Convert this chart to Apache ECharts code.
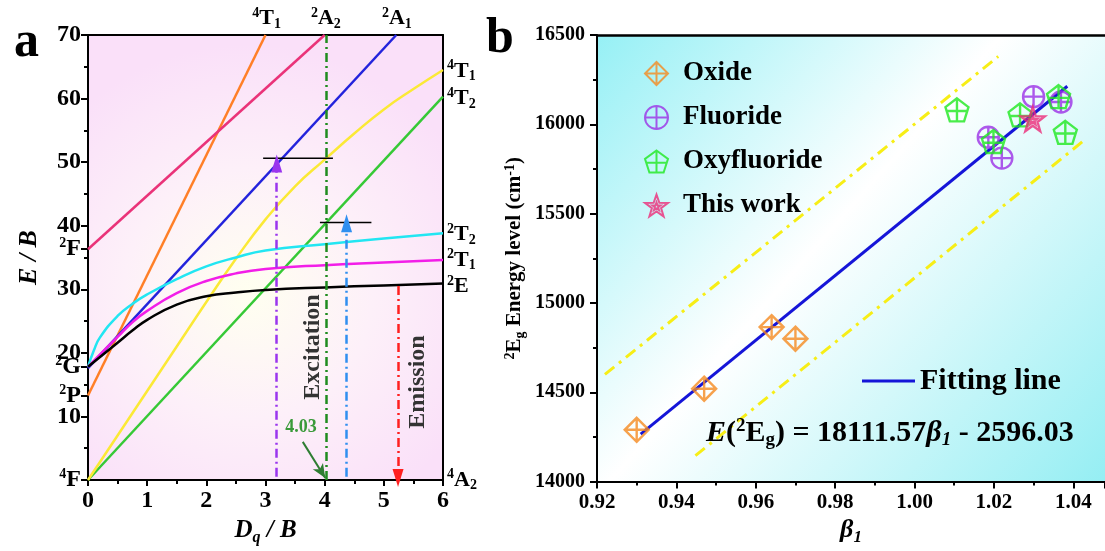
<!DOCTYPE html>
<html>
<head>
<meta charset="utf-8">
<script src="https://cdn.jsdelivr.net/npm/echarts@6.0.0/dist/echarts.min.js"></script>
<style>
  html, body { margin: 0; padding: 0; background: #fff; }
  #chart { width: 1105px; height: 551px; }
</style>
</head>
<body>
<div id="chart"></div>
<script>
// ---- panel a: Tanabe-Sugano levels, x = Dq/B, y = E/B ----
const orangeT1P = [[0, 13.3], [3.0, 70]]
const pinkLine = [[0, 36.3], [4.0, 70]]
const blueA1 = [[0, 17.6], [5.21, 70]]
const greenT2 = [[0, 0], [6, 60.3]]
const yellowT1 = [[0, 0], [0.5, 7], [1, 14], [1.5, 21], [2, 28], [2.5, 34.8], [3, 41], [3.5, 46.2], [4, 50.4], [4.5, 54.5], [5, 58.3], [5.5, 61.5], [6, 64.5]]
const cyanT2 = [[0, 17.8], [0.1, 20.4], [0.2, 22.4], [0.5, 25.8], [0.75, 27.7], [1, 29.2], [1.5, 31.6], [2, 33.6], [2.5, 35], [3, 36.1], [4, 37.1], [5, 38], [6, 38.8]]
const magentaT1 = [[0, 17.8], [0.25, 20.2], [0.5, 22.5], [0.75, 24.8], [1, 26.6], [1.5, 29.4], [2, 31.3], [2.5, 32.5], [3, 33.2], [4, 33.8], [5, 34.2], [6, 34.6]]
const blackE = [[0, 17.8], [0.25, 19.7], [0.5, 21.6], [0.75, 23.5], [1, 25.2], [1.5, 27.6], [2, 28.9], [2.5, 29.5], [3, 29.9], [4, 30.3], [5, 30.6], [6, 30.9]]

const barHigh = [[2.96, 50.6], [4.14, 50.6]]
const barLow = [[3.92, 40.5], [4.79, 40.5]]
// vertical dash-dot arrows: x, from, to
const purpleArrow = [3.19, 0.5, 49.8]
const greenMark = [4.03, 0, 70]
const blueArrow = [4.37, 0.5, 40.4]
const redArrow = [5.24, 30.5, 0.3]
const pointerArrow = [[3.63, 6.0], [4.01, 0.3]]

const leftTermValues = [36.3, 17.8, 13.3, 0]
const leftTermNames = ['{sup|2}F', '{sup|2}G', '{sup|2}P', '{sup|4}F']
const rightTermValues = [64.3, 60, 38.6, 34.6, 30.4, 0]
const rightTermNames = ['{sup|4}T{sub|1}', '{sup|4}T{sub|2}', '{sup|2}T{sub|2}', '{sup|2}T{sub|1}', '{sup|2}E', '{sup|4}A{sub|2}']
const topTermValues = [3.02, 4.02, 5.22]
const topTermNames = ['{sup|4}T{sub|1}', '{sup|2}A{sub|2}', '{sup|2}A{sub|1}']

// ---- panel b: 2Eg energy vs beta1 ----
const oxide = [[0.930, 14290], [0.947, 14520], [0.964, 14865], [0.970, 14800]]
const fluoride = [[1.0186, 15928], [1.022, 15811], [1.030, 16155], [1.0369, 16125]]
const oxyfluoride = [[1.0107, 16081], [1.0199, 15904], [1.0266, 16053], [1.0363, 16155], [1.038, 15955]]
const thisWork = [[1.0298, 16029]]
const fitLine = [[0.931, 14266], [1.0385, 16213]]
const upperBand = [[0.922, 14600], [1.0211, 16380]]
const lowerBand = [[0.9448, 14145], [1.043, 15915]]

const serif = '"Liberation Serif", "Times New Roman", serif'
const dashDot = [9, 4, 2, 4]

const rich = {
  sup: { fontSize: 14, fontWeight: 'bold', fontFamily: serif, color: '#000', padding: [0, 0, 11, 0] },
  sub: { fontSize: 14, fontWeight: 'bold', fontFamily: serif, color: '#000', padding: [11, 0, 0, 0] }
}

const labelMap = (vals, names) => (v) => {
  const i = vals.findIndex(t => Math.abs(t - v) < 1e-6)
  return i >= 0 ? names[i] : ''
}

const diamondCross = 'path://M10,0L20,10L10,20L0,10Z M10,0L10,20 M0,10L20,10'
const circleCross = 'path://M0,10A10,10,0,1,1,20,10A10,10,0,1,1,0,10Z M10,0L10,20 M0,10L20,10'
const pentagonCross = 'path://M10,0L19.51,6.91L15.88,18.09L4.12,18.09L0.49,6.91Z M10,0L10,18.09 M1.49,10L18.51,10'
const starIn = 'path://M10,0L12.35,6.76L19.51,6.91L13.8,11.24L15.88,18.09L10,14L4.12,18.09L6.2,11.24L0.49,6.91L7.65,6.76Z ' +
  'M10,6.5L10.82,8.87L13.33,8.92L11.33,10.43L12.06,12.83L10,11.4L7.94,12.83L8.67,10.43L6.67,8.92L9.18,8.87Z'

function vline(spec, color, arrow) {
  const [x, y0, y1] = spec
  return [
    { coord: [x, y0], symbol: 'none', lineStyle: { color, width: 2.5, type: dashDot } },
    { coord: [x, y1], symbol: arrow ? 'triangle' : 'none', symbolSize: [11, 18] }
  ]
}

function curve(name, data, color, smooth) {
  return {
    name, type: 'line', xAxisIndex: 0, yAxisIndex: 0, data,
    showSymbol: false, symbol: 'none', smooth: smooth ? 0.5 : false,
    lineStyle: { color, width: 2.5 }, silent: true, z: 3
  }
}

function scatter(name, data, symbol, color, size) {
  return {
    name, type: 'scatter', xAxisIndex: 2, yAxisIndex: 2, data,
    symbol, symbolSize: size,
    itemStyle: { color: 'rgba(0,0,0,0)', borderColor: color, borderWidth: 2.4 },
    z: 5
  }
}

const chart = echarts.init(document.getElementById('chart'), null, { renderer: 'canvas' })

chart.setOption({
  animation: false,
  backgroundColor: '#fff',
  textStyle: { fontFamily: serif },
  grid: [
    {
      left: 88, top: 35, width: 355, height: 445, show: true, borderWidth: 0,
      backgroundColor: new echarts.graphic.RadialGradient(0.45, 0.58, 0.7, [
        { offset: 0, color: '#fffff0' },
        { offset: 0.5, color: '#fdf0f9' },
        { offset: 1, color: '#fae0f9' }
      ])
    },
    {
      left: 597, top: 35, width: 508, height: 447, show: true, borderWidth: 0,
      backgroundColor: new echarts.graphic.LinearGradient(0, 0, 1, 1, [
        { offset: 0, color: '#96f0f5' },
        { offset: 0.45, color: '#ffffff' },
        { offset: 1, color: '#95eef3' }
      ])
    }
  ],
  xAxis: [
    {
      gridIndex: 0, type: 'value', position: 'bottom', min: 0, max: 6, interval: 1,
      name: '{it|D}{itsub|q}{it| / B}', nameLocation: 'middle', nameGap: 29,
      nameTextStyle: {
        rich: {
          it: { fontSize: 25, fontWeight: 'bold', fontStyle: 'italic', fontFamily: serif, color: '#000' },
          itsub: { fontSize: 16, fontWeight: 'bold', fontStyle: 'italic', fontFamily: serif, color: '#000', padding: [14, 0, 0, 0] }
        }
      },
      axisLine: { show: true, onZero: false, lineStyle: { color: '#000', width: 2 } },
      axisTick: { show: true, length: 6, lineStyle: { color: '#000', width: 2 } },
      minorTick: { show: true, splitNumber: 2, length: 4, lineStyle: { color: '#000', width: 2 } },
      axisLabel: { color: '#000', fontSize: 24, fontWeight: 'bold', fontFamily: serif, margin: 9 },
      splitLine: { show: false }
    },
    {
      gridIndex: 0, type: 'value', position: 'top', min: 0, max: 6,
      axisLine: { show: true, onZero: false, lineStyle: { color: '#000', width: 2 } },
      axisTick: { show: false },
      axisLabel: {
        customValues: topTermValues, formatter: labelMap(topTermValues, topTermNames),
        color: '#000', fontSize: 22, fontWeight: 'bold', fontFamily: serif, margin: 4, rich
      },
      splitLine: { show: false }
    },
    {
      gridIndex: 1, type: 'value', position: 'bottom', min: 0.92, max: 1.048, interval: 0.02,
      name: '{it|β}{itsub|1}', nameLocation: 'middle', nameGap: 32,
      nameTextStyle: {
        rich: {
          it: { fontSize: 26, fontWeight: 'bold', fontStyle: 'italic', fontFamily: serif, color: '#000' },
          itsub: { fontSize: 17, fontWeight: 'bold', fontStyle: 'italic', fontFamily: serif, color: '#000', padding: [14, 0, 0, 0] }
        }
      },
      axisLine: { show: true, onZero: false, lineStyle: { color: '#000', width: 2 } },
      axisTick: { show: true, length: 7, lineStyle: { color: '#000', width: 2 } },
      minorTick: { show: true, splitNumber: 2, length: 4, lineStyle: { color: '#000', width: 2 } },
      axisLabel: { color: '#000', fontSize: 21, fontWeight: 'bold', fontFamily: serif, margin: 10, formatter: v => v.toFixed(2) },
      splitLine: { show: false }
    },
    {
      gridIndex: 1, type: 'value', position: 'top', min: 0.92, max: 1.048,
      axisLine: { show: true, onZero: false, lineStyle: { color: '#000', width: 2.5 } },
      axisTick: { show: false }, axisLabel: { show: false }, splitLine: { show: false }
    }
  ],
  yAxis: [
    {
      gridIndex: 0, type: 'value', position: 'left', min: 0, max: 70, interval: 10,
      name: 'E / B', nameLocation: 'middle', nameGap: 46, nameRotate: 90,
      nameTextStyle: { color: '#000', fontSize: 26, fontWeight: 'bold', fontStyle: 'italic', fontFamily: serif },
      axisLine: { show: true, onZero: false, lineStyle: { color: '#000', width: 2 } },
      axisTick: { show: true, length: 7, customValues: [10, 20, 30, 40, 50, 60, 70].concat(leftTermValues), lineStyle: { color: '#000', width: 2 } },
      minorTick: { show: true, splitNumber: 2, length: 4, lineStyle: { color: '#000', width: 2 } },
      axisLabel: {
        customValues: [10, 20, 30, 40, 50, 60, 70].concat(leftTermValues),
        formatter: v => {
          const i = leftTermValues.findIndex(t => Math.abs(t - v) < 1e-6)
          return i >= 0 ? leftTermNames[i] : String(v)
        },
        color: '#000', fontSize: 24, fontWeight: 'bold', fontFamily: serif, margin: 7, rich
      },
      splitLine: { show: false }
    },
    {
      gridIndex: 0, type: 'value', position: 'right', min: 0, max: 70,
      axisLine: { show: true, onZero: false, lineStyle: { color: '#000', width: 2 } },
      axisTick: { show: false },
      axisLabel: {
        customValues: rightTermValues, formatter: labelMap(rightTermValues, rightTermNames),
        color: '#000', fontSize: 22, fontWeight: 'bold', fontFamily: serif, margin: 4, rich
      },
      splitLine: { show: false }
    },
    {
      gridIndex: 1, type: 'value', position: 'left', min: 14000, max: 16500, interval: 500,
      name: '{sup|2}E{sub|g} Energy level (cm{sup|-1})', nameLocation: 'middle', nameGap: 70, nameRotate: 90,
      nameTextStyle: {
        color: '#000', fontSize: 21, fontWeight: 'bold', fontFamily: serif,
        rich: {
          sup: { fontSize: 14, fontWeight: 'bold', fontFamily: serif, color: '#000', padding: [0, 0, 10, 0] },
          sub: { fontSize: 14, fontWeight: 'bold', fontFamily: serif, color: '#000', padding: [10, 0, 0, 0] }
        }
      },
      axisLine: { show: true, onZero: false, lineStyle: { color: '#000', width: 2 } },
      axisTick: { show: true, length: 7, lineStyle: { color: '#000', width: 2 } },
      minorTick: { show: true, splitNumber: 2, length: 4, lineStyle: { color: '#000', width: 2 } },
      axisLabel: { color: '#000', fontSize: 20, fontWeight: 'bold', fontFamily: serif, margin: 12, formatter: v => String(v) },
      splitLine: { show: false }
    },
    {
      gridIndex: 1, type: 'value', position: 'right', min: 14000, max: 16500,
      axisLine: { show: false }, axisTick: { show: false }, axisLabel: { show: false }, splitLine: { show: false }
    }
  ],
  legend: [
    {
      data: ['Oxide', 'Fluoride', 'Oxyfluoride', 'This work'],
      orient: 'vertical', left: 639, top: 55, itemGap: 17, itemWidth: 23, itemHeight: 23,
      textStyle: { color: '#000', fontSize: 27, fontWeight: 'bold', fontFamily: serif, padding: [0, 0, 0, 10] },
      selectedMode: false
    },
    {
      data: [{ name: 'Fitting line', icon: 'rect' }],
      left: 857, top: 361, itemWidth: 53, itemHeight: 3,
      textStyle: { color: '#000', fontSize: 30, fontWeight: 'bold', fontFamily: serif, padding: [0, 0, 0, 0] },
      selectedMode: false
    }
  ],
  series: [
    curve('4T1P', orangeT1P, '#ff7f27'),
    curve('2F', pinkLine, '#ea3379'),
    curve('2A1', blueA1, '#2323dc'),
    curve('4T2', greenT2, '#36c936'),
    curve('4T1', yellowT1, '#fbe936', true),
    curve('2T2', cyanT2, '#22e6f2', true),
    curve('2T1', magentaT1, '#f21ee8', true),
    curve('2E', blackE, '#000000', true),
    {
      name: 'barHigh', type: 'line', xAxisIndex: 0, yAxisIndex: 0, data: barHigh,
      symbol: 'none', lineStyle: { color: '#000', width: 1.5 }, silent: true, z: 4
    },
    {
      name: 'barLow', type: 'line', xAxisIndex: 0, yAxisIndex: 0, data: barLow,
      symbol: 'none', lineStyle: { color: '#000', width: 1.5 }, silent: true, z: 4,
      markLine: {
        silent: true, animation: false, label: { show: false },
        data: [
          vline(purpleArrow, '#9a35ee', true),
          vline(greenMark, '#1f8c1f', false),
          vline(blueArrow, '#2f8ff0', true),
          vline(redArrow, '#ff2020', true),
          [
            { coord: pointerArrow[0], symbol: 'none', lineStyle: { color: '#2e7d32', width: 2, type: 'solid' } },
            { coord: pointerArrow[1], symbol: 'arrow', symbolSize: [9, 14] }
          ]
        ]
      }
    },
    {
      name: 'upper', type: 'line', xAxisIndex: 2, yAxisIndex: 2, data: upperBand,
      symbol: 'none', lineStyle: { color: '#f7ee16', width: 3, type: [12, 6, 3, 6] }, silent: true, z: 3
    },
    {
      name: 'lower', type: 'line', xAxisIndex: 2, yAxisIndex: 2, data: lowerBand,
      symbol: 'none', lineStyle: { color: '#f7ee16', width: 3, type: [12, 6, 3, 6] }, silent: true, z: 3
    },
    {
      name: 'Fitting line', type: 'line', xAxisIndex: 2, yAxisIndex: 2, data: fitLine,
      symbol: 'none', showSymbol: false, lineStyle: { color: '#1515d8', width: 3 }, itemStyle: { color: '#1515d8' }, z: 4
    },
    scatter('Oxide', oxide, diamondCross, '#f58a1f', 24),
    scatter('Fluoride', fluoride, circleCross, '#9b30e6', 21),
    scatter('Oxyfluoride', oxyfluoride, pentagonCross, '#1ee81e', 23),
    scatter('This work', thisWork, starIn, '#ec2a78', 24)
  ],
  graphic: [
    { type: 'text', left: 14, top: 18, style: { text: 'a', fontSize: 50, fontWeight: 'bold', fontFamily: serif, fill: '#000' } },
    { type: 'text', left: 486, top: 14, style: { text: 'b', fontSize: 50, fontWeight: 'bold', fontFamily: serif, fill: '#000' } },
    {
      type: 'text', x: 313, y: 347, rotation: Math.PI / 2, z: 10,
      style: { text: 'Excitation', fontSize: 24, fontWeight: 'bold', fontFamily: serif, fill: '#333', align: 'center', verticalAlign: 'middle' }
    },
    {
      type: 'text', x: 418, y: 382, rotation: Math.PI / 2, z: 10,
      style: { text: 'Emission', fontSize: 24, fontWeight: 'bold', fontFamily: serif, fill: '#333', align: 'center', verticalAlign: 'middle' }
    },
    {
      type: 'text', x: 301, y: 427, z: 10,
      style: { text: '4.03', fontSize: 18, fontWeight: 'bold', fontFamily: serif, fill: '#3a9a3a', align: 'center', verticalAlign: 'middle' }
    },
    {
      type: 'text', x: 706, y: 433, z: 10,
      style: {
        text: '{i|E}({sup|2}E{sub|g}) = 18111.57{i|β}{isub|1} - 2596.03',
        fontSize: 30, fontWeight: 'bold', fontFamily: serif, fill: '#000', verticalAlign: 'middle',
        rich: {
          i: { fontSize: 30, fontWeight: 'bold', fontStyle: 'italic', fontFamily: serif, fill: '#000' },
          sup: { fontSize: 19, fontWeight: 'bold', fontFamily: serif, fill: '#000', padding: [0, 0, 13, 0] },
          sub: { fontSize: 19, fontWeight: 'bold', fontFamily: serif, fill: '#000', padding: [15, 0, 0, 0] },
          isub: { fontSize: 19, fontWeight: 'bold', fontStyle: 'italic', fontFamily: serif, fill: '#000', padding: [15, 0, 0, 0] }
        }
      }
    }
  ]
})
</script>
</body>
</html>
